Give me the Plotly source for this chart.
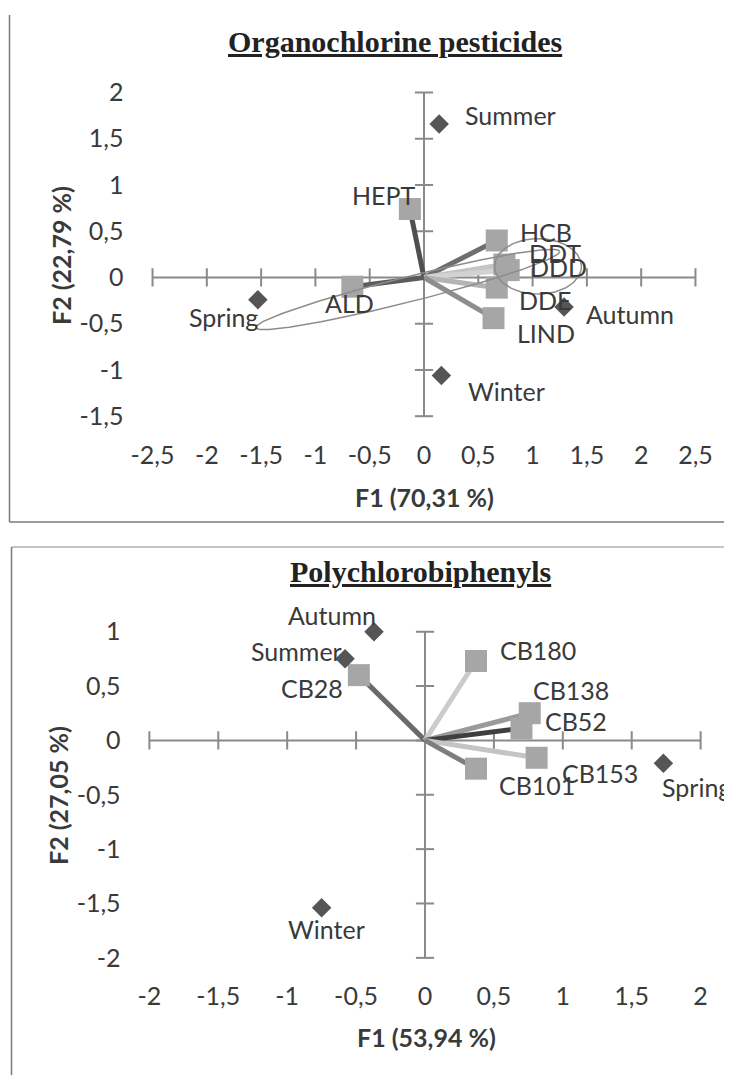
import numpy as np
import plotly.graph_objects as go

# ---------------- Data ----------------
# Organochlorine pesticides (top panel)
oc_vars = ["HEPT", "HCB", "DDT", "DDD", "DDE", "LIND", "ALD"]
oc_var_f1 = [-0.13, 0.67, 0.74, 0.78, 0.67, 0.64, -0.66]
oc_var_f2 = [0.74, 0.40, 0.14, 0.08, -0.11, -0.44, -0.10]
oc_seasons = ["Spring", "Summer", "Autumn", "Winter"]
oc_season_f1 = [-1.53, 0.14, 1.29, 0.16]
oc_season_f2 = [-0.24, 1.66, -0.32, -1.06]
oc_xticks = [-2.5, -2, -1.5, -1, -0.5, 0, 0.5, 1, 1.5, 2, 2.5]
oc_yticks = [-1.5, -1, -0.5, 0, 0.5, 1, 1.5, 2]

# Polychlorobiphenyls (bottom panel)
pcb_vars = ["CB28", "CB180", "CB138", "CB52", "CB153", "CB101"]
pcb_var_f1 = [-0.48, 0.37, 0.76, 0.70, 0.81, 0.37]
pcb_var_f2 = [0.60, 0.73, 0.25, 0.11, -0.16, -0.26]
pcb_seasons = ["Autumn", "Summer", "Spring", "Winter"]
pcb_season_f1 = [-0.37, -0.58, 1.73, -0.75]
pcb_season_f2 = [1.00, 0.75, -0.21, -1.54]
pcb_xticks = [-2, -1.5, -1, -0.5, 0, 0.5, 1, 1.5, 2]
pcb_yticks = [-2, -1.5, -1, -0.5, 0, 0.5, 1]

# ---------------- Styles ----------------
OFF = 8                      # page body margin of the html page
W, H = 732 - OFF, 1075 - OFF


def PX(p):
    return (p - OFF) / W


def PY(p):
    return 1 - (p - OFF) / H


LABEL_FONT = dict(family="Lato", size=25, color="#3a3a3a")
TICK_FONT = dict(family="Lato", size=25, color="#3a3a3a")
AXIS_COLOR = "#8a8a8a"
SQUARE_COLOR = "#a6a6a6"
DIAMOND_COLOR = "#555555"

oc_line_colors = {"HEPT": "#4f4f4f", "HCB": "#6e6e6e", "DDT": "#c4c4c4", "DDD": "#d2d2d2",
                  "DDE": "#b4b4b4", "LIND": "#8e8e8e", "ALD": "#5c5c5c"}
pcb_line_colors = {"CB28": "#6a6a6a", "CB180": "#cbcbcb", "CB138": "#9a9a9a",
                   "CB52": "#3f3f3f", "CB153": "#c4c4c4", "CB101": "#7e7e7e"}

# label offsets in pixels (dx right, dy up)
oc_var_off = {"HEPT": (-26, 14), "HCB": (49, 8), "DDT": (51, 12), "DDD": (50, 3),
              "DDE": (48, -12), "LIND": (52, -15), "ALD": (-3, -16)}
oc_season_off = {"Spring": (-34, -17), "Summer": (71, 9), "Autumn": (66, -7), "Winter": (65, -15)}
pcb_var_off = {"CB28": (-47, -13), "CB180": (62, 11), "CB138": (41, 23), "CB52": (55, 7),
               "CB153": (63, -15), "CB101": (61, -16)}
pcb_season_off = {"Autumn": (-42, 17), "Summer": (-49, 8), "Spring": (33, -24), "Winter": (5, -21)}

fig = go.Figure()
annotations = []
shapes = []


def fmt(v):
    return ("%g" % v).replace(".", ",")


def add_panel(xr, yr, vars_, vf1, vf2, seas, sf1, sf2, xt, yt, line_cols, var_off, seas_off):
    # crosshair axes
    fig.add_trace(go.Scatter(x=[xt[0], xt[-1]], y=[0, 0], mode="lines", xaxis=xr, yaxis=yr,
                             line=dict(color=AXIS_COLOR, width=2), showlegend=False, hoverinfo="skip"))
    fig.add_trace(go.Scatter(x=[0, 0], y=[yt[0], yt[-1]], mode="lines", xaxis=xr, yaxis=yr,
                             line=dict(color=AXIS_COLOR, width=2), showlegend=False, hoverinfo="skip"))
    fig.add_trace(go.Scatter(x=xt, y=[0] * len(xt), mode="markers", xaxis=xr, yaxis=yr,
                             marker=dict(symbol="line-ns", size=13, line=dict(color=AXIS_COLOR, width=2)),
                             showlegend=False, hoverinfo="skip"))
    fig.add_trace(go.Scatter(x=[0] * len(yt), y=yt, mode="markers", xaxis=xr, yaxis=yr,
                             marker=dict(symbol="line-ew", size=13, line=dict(color=AXIS_COLOR, width=2)),
                             showlegend=False, hoverinfo="skip"))
    # vectors
    for n, a, b in zip(vars_, vf1, vf2):
        fig.add_trace(go.Scatter(x=[0, a], y=[0, b], mode="lines", xaxis=xr, yaxis=yr,
                                 line=dict(color=line_cols[n], width=5), showlegend=False))
    fig.add_trace(go.Scatter(x=vf1, y=vf2, mode="markers", xaxis=xr, yaxis=yr,
                             marker=dict(symbol="square", size=22, color=SQUARE_COLOR),
                             showlegend=False, cliponaxis=False))
    fig.add_trace(go.Scatter(x=sf1, y=sf2, mode="markers", xaxis=xr, yaxis=yr,
                             marker=dict(symbol="diamond", size=15, color=DIAMOND_COLOR),
                             showlegend=False, cliponaxis=False))
    for n, a, b in zip(vars_, vf1, vf2):
        dx, dy = var_off[n]
        annotations.append(dict(x=a, y=b, xref=xr, yref=yr, text=n, showarrow=False,
                                xanchor="center", yanchor="middle",
                                xshift=dx, yshift=dy, font=LABEL_FONT))
    for n, a, b in zip(seas, sf1, sf2):
        dx, dy = seas_off[n]
        annotations.append(dict(x=a, y=b, xref=xr, yref=yr, text=n, showarrow=False,
                                xanchor="center", yanchor="middle",
                                xshift=dx, yshift=dy, font=LABEL_FONT))


add_panel("x", "y", oc_vars, oc_var_f1, oc_var_f2, oc_seasons, oc_season_f1, oc_season_f2,
          oc_xticks, oc_yticks, oc_line_colors, oc_var_off, oc_season_off)
add_panel("x2", "y2", pcb_vars, pcb_var_f1, pcb_var_f2, pcb_seasons, pcb_season_f1, pcb_season_f2,
          pcb_xticks, pcb_yticks, pcb_line_colors, pcb_var_off, pcb_season_off)

# grouping ellipses (top panel)
t = np.linspace(0, 2 * np.pi, 200)
ell_long = dict(c=(-0.15, -0.13), a=(1.40, 0.41), b=(0.0, 0.14))
ell_small = dict(c=(1.05, 0.12), a=(0.40, 0.0), b=(0.0, 0.30))
for e in (ell_long, ell_small):
    ex = e["c"][0] + e["a"][0] * np.cos(t) + e["b"][0] * np.sin(t)
    ey = e["c"][1] + e["a"][1] * np.cos(t) + e["b"][1] * np.sin(t)
    fig.add_trace(go.Scatter(x=ex, y=ey, mode="lines", xaxis="x", yaxis="y",
                             line=dict(color="#8c8c8c", width=1.5), showlegend=False, hoverinfo="skip"))


def axis(rng, dom, ticks, anchor, ticklen):
    return dict(range=rng, domain=dom, anchor=anchor, showgrid=False, zeroline=False, showline=False,
                tickmode="array", tickvals=ticks, ticktext=[fmt(v) for v in ticks],
                ticks="outside", ticklen=ticklen, tickcolor="rgba(0,0,0,0)",
                tickfont=TICK_FONT, automargin=False, fixedrange=True)


fig.update_layout(
    width=W, height=H, margin=dict(l=0, r=0, t=0, b=0),
    plot_bgcolor="white", paper_bgcolor="white", showlegend=False,
    xaxis=axis([-2.62, 2.62], [PX(139.5), PX(708.5)], oc_xticks, "y", 2),
    yaxis=axis([-1.66, 2.12], [PY(431), PY(81.4)], oc_yticks, "x", 10),
    xaxis2=axis([-2.1, 2.1], [PX(135.6), PX(714.4)], pcb_xticks, "y2", 2),
    yaxis2=axis([-2.13, 1.2], [PY(972), PY(609.9)], pcb_yticks, "x2", 9),
)

# titles and axis titles
TITLE_FONT = dict(family="Liberation Serif", size=30, color="#222222")
AXT_FONT = dict(family="Lato", size=25, color="#3a3a3a")


def ptext(x, y, text, font, angle=0):
    return dict(x=PX(x), y=PY(y), xref="paper", yref="paper", text=text, showarrow=False,
                xanchor="center", yanchor="middle", textangle=angle, font=font)


annotations += [
    ptext(395, 42, "<b><u>Organochlorine pesticides</u></b>", TITLE_FONT),
    ptext(421, 571, "<b><u>Polychlorobiphenyls</u></b>", TITLE_FONT),
    ptext(424, 497, "<b>F1 (70,31 %)</b>", AXT_FONT),
    ptext(61, 255, "<b>F2 (22,79 %)</b>", AXT_FONT, -90),
    ptext(426, 1037, "<b>F1 (53,94 %)</b>", AXT_FONT),
    ptext(58, 796, "<b>F2 (27,05 %)</b>", AXT_FONT, -90),
]

# chart frames
FRAME = dict(color="#7a7a7a", width=1.5)
shapes += [
    dict(type="line", xref="paper", yref="paper", x0=PX(9.5), x1=PX(9.5), y0=PY(15), y1=PY(522), line=FRAME),
    dict(type="line", xref="paper", yref="paper", x0=PX(9.5), x1=1, y0=PY(522), y1=PY(522), line=FRAME),
    dict(type="line", xref="paper", yref="paper", x0=PX(11.5), x1=1, y0=PY(547), y1=PY(547),
         line=dict(color="#b0b0b0", width=1.5)),
    dict(type="line", xref="paper", yref="paper", x0=PX(11.5), x1=PX(11.5), y0=PY(547), y1=0, line=FRAME),
]

fig.update_layout(annotations=annotations, shapes=shapes)
fig.write_html("out.html")
